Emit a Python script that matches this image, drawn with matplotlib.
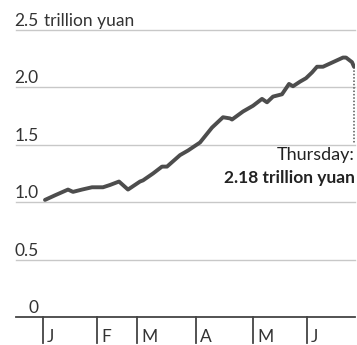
import numpy as np
from matplotlib import pyplot as plt
from matplotlib import transforms

plt.rcParams['font.family'] = ['Lato', 'DejaVu Sans']

# trading-day index and margin balance (trillion yuan)
days = [0.8, 4.8, 10, 12, 15.6, 19.6, 24, 26.8, 30.4, 34, 38.8, 40, 44, 47.6,
        49.6, 54.8, 58, 62.8, 67.6, 72, 74.8, 75.6, 80, 84, 87.6, 89.6, 92,
        95.6, 98.4, 100, 102.8, 105.2, 107.6, 109.6, 112, 116, 120, 121.2,
        123.6, 124.4]
values = [1.02, 1.06, 1.11, 1.09, 1.11, 1.13, 1.13, 1.15, 1.18, 1.11, 1.18,
          1.19, 1.25, 1.31, 1.31, 1.41, 1.45, 1.52, 1.65, 1.74, 1.73, 1.72,
          1.79, 1.84, 1.90, 1.87, 1.92, 1.94, 2.03, 2.01, 2.05, 2.08, 2.13,
          2.18, 2.18, 2.22, 2.26, 2.26, 2.22, 2.18]

month_pos = [0, 21.6, 37.6, 61.2, 84, 105.6]
month_lab = ['J', 'F', 'M', 'A', 'M', 'J']
yticks = [0, 0.5, 1.0, 1.5, 2.0, 2.5]
ylabels = ['0', '0.5', '1.0', '1.5', '2.0', '2.5']

W, H = 357, 345
fig = plt.figure(figsize=(W/100, H/100), dpi=100)
ax = fig.add_axes([16/W, 28/H, 339/W, 287/H])
ax.set_xlim(-10.8, 124.8)
ax.set_ylim(0, 2.5)
ax.axis('off')

for y in yticks[1:]:
    ax.axhline(y, color='#c8c8c8', lw=1.0, clip_on=False, zorder=1)
ax.axhline(0, color='#444444', lw=1.3, clip_on=False, zorder=2)

ax.plot(days, values, color='#4d4d4d', lw=2.8, solid_joinstyle='round',
        solid_capstyle='round', zorder=3)

# dotted drop line from last value
ax.plot([days[-1], days[-1]], [values[-1], 1.52], color='#555555', lw=1.1,
        ls=(0, (1, 1.2)), zorder=2)
ax.text(124.8, 1.37, 'Thursday:', ha='right', va='baseline', fontsize=13,
        color='#222222')
ax.text(124.8, 1.17, '2.18 trillion yuan', ha='right', va='baseline',
        fontsize=12.5, fontweight='bold', color='#222222')

# y labels sitting on the gridlines
lab_tr = transforms.offset_copy(ax.transData, fig=fig, x=0, y=4, units='dots')
for y, s in zip(yticks, ylabels):
    ax.text(-1.8, y, s, ha='right', va='baseline', fontsize=12.5,
            color='#333333', transform=lab_tr)
ax.text(0.2, 2.5, 'trillion yuan', ha='left', va='baseline', fontsize=12.5,
        color='#333333', transform=lab_tr)

# month ticks below baseline
for x, s in zip(month_pos, month_lab):
    ax.plot([x, x], [0, -0.225], color='#444444', lw=1.3, clip_on=False)
    ax.text(x + 1.6, -0.215, s, ha='left', va='baseline', fontsize=12.5,
            color='#333333')

fig.savefig('out.png', dpi=100)
